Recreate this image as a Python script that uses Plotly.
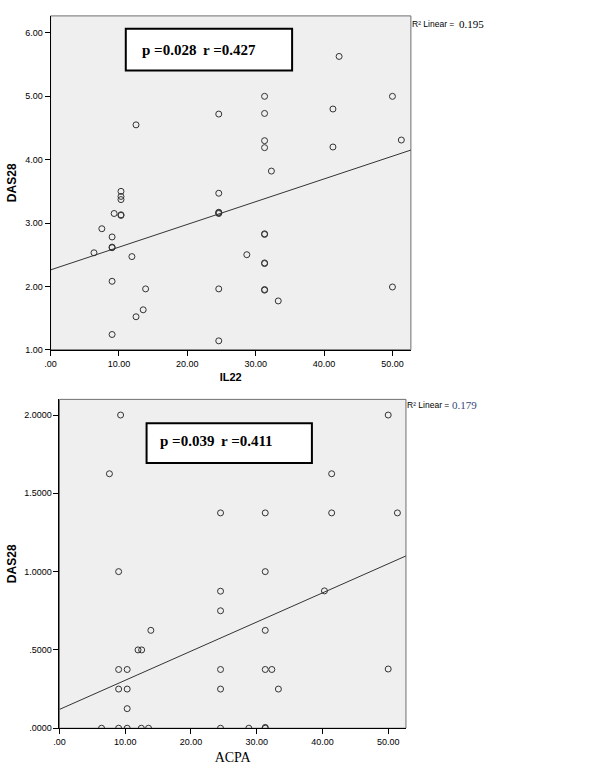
import plotly.graph_objects as go

W, H = 599, 766

# ---------------- data ----------------
il22 = [31.3, 31.3, 24.6, 12.5, 31.3, 31.3, 32.3, 10.3, 24.6, 42.2, 50.0, 41.3, 41.3, 51.3,
        10.3, 10.3, 9.3, 10.3, 10.3, 24.6, 24.6, 24.6, 7.5, 9.0, 9.0, 9.0, 6.35, 11.9, 28.7,
        31.3, 31.3, 31.3, 31.3, 9.0, 13.9, 24.6, 31.3, 31.3, 33.3, 13.55, 12.5, 9.0, 24.6, 50.0]
das28_il22 = [5.00, 4.73, 4.72, 4.55, 4.30, 4.19, 3.82, 3.50, 3.47, 5.63, 5.00, 4.80, 4.20, 4.31,
              3.42, 3.37, 3.15, 3.12, 3.13, 3.17, 3.15, 3.16, 2.91, 2.78, 2.61, 2.62, 2.53, 2.47, 2.50,
              2.82, 2.83, 2.37, 2.36, 2.08, 1.96, 1.96, 1.95, 1.94, 1.77, 1.63, 1.52, 1.24, 1.14, 1.99]

acpa = [9.3, 7.6, 24.5, 31.3, 9.0, 31.3, 50.0, 41.4, 41.4, 51.4, 24.5, 24.5, 13.9, 31.3,
        11.95, 12.5, 9.0, 10.3, 24.5, 31.3, 32.3, 9.0, 10.3, 24.5, 33.3, 10.3,
        6.4, 9.0, 10.3, 12.45, 13.55, 24.5, 28.8, 31.3, 31.3, 40.3, 50.0]
das28_acpa = [2.0, 1.625, 1.375, 1.375, 1.0, 1.0, 2.0, 1.625, 1.375, 1.375, 0.875, 0.75, 0.625, 0.625,
              0.5, 0.5, 0.375, 0.375, 0.375, 0.375, 0.375, 0.25, 0.25, 0.25, 0.25, 0.125,
              0.0, 0.0, 0.0, 0.0, 0.0, 0.0, 0.0, 0.0, 0.005, 0.877, 0.378]

# linear fits (intercept, slope)
fit_il22 = (2.26, 0.0359)
fit_acpa = (0.12, 0.0186)
x_max = 52.7

x_tickvals = [0, 10, 20, 30, 40, 50]
x_ticktext = [".00", "10.00", "20.00", "30.00", "40.00", "50.00"]
y1_tickvals = [1, 2, 3, 4, 5, 6]
y1_ticktext = ["1.00", "2.00", "3.00", "4.00", "5.00", "6.00"]
y2_tickvals = [0, 0.5, 1.0, 1.5, 2.0]
y2_ticktext = [".0000", ".5000", "1.0000", "1.5000", "2.0000"]

p_top, r_top = "p =0.028", "r =0.427"
p_bot, r_bot = "p =0.039", "r =0.411"
r2_label = "R\u00b2 Linear ="
r2_top = "0.195"
r2_bot = "0.179"


def fx(p):
    return p / W


def fy(p):
    return 1 - p / H


SANS = "Liberation Sans, Arial, sans-serif"
SERIF = "Liberation Serif, Times New Roman, serif"

fig = go.Figure()

marker = dict(symbol="circle-open", size=6, color="#333333", line=dict(width=1, color="#333333"))

fig.add_trace(go.Scatter(x=il22, y=das28_il22, mode="markers", marker=marker,
                         xaxis="x", yaxis="y"))
fig.add_trace(go.Scatter(x=[0, x_max], y=[fit_il22[0], fit_il22[0] + fit_il22[1] * x_max],
                         mode="lines", line=dict(color="#333333", width=1), xaxis="x", yaxis="y"))

fig.add_trace(go.Scatter(x=acpa, y=das28_acpa, mode="markers", marker=marker,
                         xaxis="x2", yaxis="y2"))
fig.add_trace(go.Scatter(x=[0, x_max], y=[fit_acpa[0], fit_acpa[0] + fit_acpa[1] * x_max],
                         mode="lines", line=dict(color="#333333", width=1), xaxis="x2", yaxis="y2"))

axis_common = dict(showgrid=False, zeroline=False, showline=True, linecolor="#000000", linewidth=1,
                   ticks="outside", ticklen=5, tickcolor="#000000", tickwidth=1,
                   tickfont=dict(family=SANS, size=9, color="#000000"))

fig.update_layout(
    width=W, height=H, margin=dict(l=0, r=0, t=0, b=0), showlegend=False,
    paper_bgcolor="white", plot_bgcolor="#efefef",
    xaxis=dict(domain=[fx(45), fx(409)], range=[0, x_max], anchor="y",
               tickvals=x_tickvals, ticktext=x_ticktext,
               title=dict(text="<b>IL22</b>", standoff=5, font=dict(family=SANS, size=11, color="#000")),
               **axis_common),
    yaxis=dict(domain=[fy(352), fy(16)], range=[1, 6.27], anchor="x",
               tickvals=y1_tickvals, ticktext=y1_ticktext,
               title=dict(text="<b>DAS28</b>", standoff=6, font=dict(family=SANS, size=12, color="#000")),
               **axis_common),
    xaxis2=dict(domain=[fx(54), fx(404)], range=[0, x_max], anchor="y2",
                tickvals=x_tickvals, ticktext=x_ticktext,
                title=dict(text="ACPA", standoff=6, font=dict(family=SERIF, size=14, color="#000")),
                **axis_common),
    yaxis2=dict(domain=[fy(733), fy(402)], range=[0, 2.10], anchor="x2",
                tickvals=y2_tickvals, ticktext=y2_ticktext,
                title=dict(text="<b>DAS28</b>", standoff=4, font=dict(family=SANS, size=12, color="#000")),
                **axis_common),
)

shapes = []
for xr, yr in (("x", "y"), ("x2", "y2")):
    shapes.append(dict(type="rect", xref=xr + " domain", yref=yr + " domain", x0=0, x1=1, y0=0, y1=1,
                       line=dict(color="#6f6f6f", width=1), layer="below"))
# statistic boxes
shapes.append(dict(type="rect", xref="paper", yref="paper", x0=fx(121), x1=fx(289), y0=fy(71), y1=fy(29),
                   line=dict(color="#000000", width=2), fillcolor="white", layer="above"))
shapes.append(dict(type="rect", xref="paper", yref="paper", x0=fx(142), x1=fx(309), y0=fy(466), y1=fy(426),
                   line=dict(color="#000000", width=2), fillcolor="white", layer="above"))
fig.update_layout(shapes=shapes)


def note(x, y, text, family, size, color="#000000", xanchor="left"):
    return dict(x=fx(x), y=fy(y), xref="paper", yref="paper", xanchor=xanchor, yanchor="middle",
                text=text, showarrow=False,
                font=dict(family=family, size=size, color=color))


ann = [
    note(135, 50, "<b>%s</b>" % p_top, SERIF, 15),
    note(197, 50, "<b>%s</b>" % r_top, SERIF, 15),
    note(154, 444, "<b>%s</b>" % p_bot, SERIF, 15),
    note(215, 444, "<b>%s</b>" % r_bot, SERIF, 15),
    note(408, 24, r2_label, SANS, 8.5),
    note(456, 24, r2_top, SERIF, 11),
    note(403, 408, r2_label, SANS, 8.5),
    note(448, 408, r2_bot, SERIF, 11, color="#34477a"),
]
fig.update_layout(annotations=ann)

fig.write_html("out.html")
